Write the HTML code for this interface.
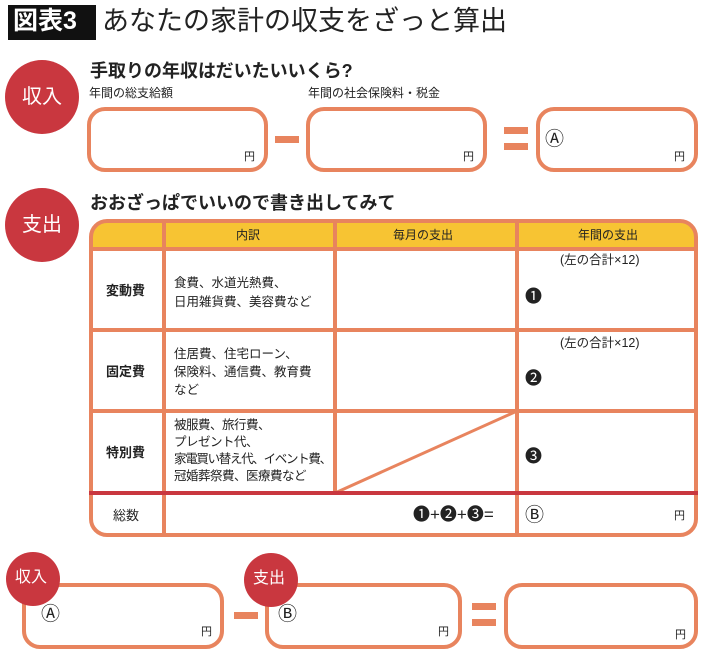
<!DOCTYPE html>
<html><head><meta charset="utf-8"><style>
body{margin:0;width:710px;height:657px;background:#fff;position:relative;overflow:hidden;font-family:"Liberation Sans","Noto Sans CJK JP",sans-serif;color:#222}
.t{position:absolute;white-space:nowrap;line-height:1}
.b{font-weight:bold}
.c{font-family:"DejaVu Sans","Noto Sans CJK JP",sans-serif;font-size:19px}
</style></head><body>
<svg width="710" height="657" style="position:absolute;left:0;top:0">
<rect x="8" y="5" width="88" height="35" fill="#111"/>
<circle cx="42" cy="97" r="37" fill="#c9373f"/>
<circle cx="42" cy="225" r="37" fill="#c9373f"/>
<g fill="none" stroke="#e8845e" stroke-width="4">
<rect x="89" y="109" width="177" height="61" rx="16"/>
<rect x="308" y="109" width="177" height="61" rx="16"/>
<rect x="538" y="109" width="158" height="61" rx="16"/>
</g>
<g fill="#e8845e">
<rect x="275" y="136" width="24" height="7"/>
<rect x="504" y="127" width="24" height="7"/>
<rect x="504" y="143" width="24" height="7"/>
</g>
<path d="M106 221 H680 A16 16 0 0 1 696 237 V249 H91 V237 A16 16 0 0 1 106 221Z" fill="#f7c433"/>
<rect x="91" y="221" width="605" height="314" rx="16" fill="none" stroke="#e8845e" stroke-width="4"/>
<g stroke="#e8845e" stroke-width="4">
<line x1="91" y1="249" x2="696" y2="249"/>
<line x1="91" y1="330" x2="696" y2="330"/>
<line x1="91" y1="411" x2="696" y2="411"/>
<line x1="164" y1="221" x2="164" y2="535"/>
<line x1="335" y1="221" x2="335" y2="493"/>
<line x1="517" y1="221" x2="517" y2="535"/>
<line x1="335" y1="493" x2="517" y2="411" stroke-width="3"/>
</g>
<line x1="89" y1="493" x2="698" y2="493" stroke="#c9373f" stroke-width="4"/>
<g fill="none" stroke="#e8845e" stroke-width="4">
<rect x="24" y="585" width="198" height="62" rx="16"/>
<rect x="267" y="585" width="193" height="62" rx="16"/>
<rect x="506" y="585" width="190" height="62" rx="16"/>
</g>
<g fill="#e8845e">
<rect x="234" y="612" width="24" height="7"/>
<rect x="472" y="603" width="24" height="7"/>
<rect x="472" y="619" width="24" height="7"/>
</g>
<circle cx="33" cy="579" r="27" fill="#c9373f"/>
<circle cx="271" cy="580" r="27" fill="#c9373f"/>
</svg>
<div class="t b" style="left:13px;top:9px;font-size:25px;color:#fff">図表3</div>
<div class="t" style="left:102px;top:8px;font-size:27px">あなたの家計の収支をざっと算出</div>
<div class="t" style="left:22px;top:87px;font-size:20px;color:#fff">収入</div>
<div class="t" style="left:22px;top:215px;font-size:20px;color:#fff">支出</div>
<div class="t b" style="left:90px;top:62px;font-size:18px">手取りの年収はだいたいいくら?</div>
<div class="t" style="left:89px;top:87px;font-size:12px">年間の総支給額</div>
<div class="t" style="left:308px;top:87px;font-size:12px">年間の社会保険料・税金</div>
<div class="t" style="left:244px;top:152px;font-size:11px">円</div>
<div class="t" style="left:463px;top:152px;font-size:11px">円</div>
<div class="t" style="left:674px;top:152px;font-size:11px">円</div>
<div class="t c" style="left:545px;top:130px">Ⓐ</div>
<div class="t b" style="left:90px;top:194px;font-size:18px">おおざっぱでいいので書き出してみて</div>
<div class="t" style="left:236px;top:229px;font-size:12px">内訳</div>
<div class="t" style="left:393px;top:229px;font-size:12px">毎月の支出</div>
<div class="t" style="left:578px;top:229px;font-size:12px">年間の支出</div>
<div class="t b" style="left:106px;top:284px;font-size:13px">変動費</div>
<div class="t b" style="left:106px;top:365px;font-size:13px">固定費</div>
<div class="t b" style="left:106px;top:446px;font-size:13px">特別費</div>
<div class="t" style="left:113px;top:509px;font-size:13px">総数</div>
<div class="t" style="left:174px;top:274px;font-size:12.5px;line-height:19px">食費、水道光熱費、<br>日用雑貨費、美容費など</div>
<div class="t" style="left:174px;top:345px;font-size:12.5px;line-height:18px">住居費、住宅ローン、<br>保険料、通信費、教育費<br>など</div>
<div class="t" style="left:174px;top:417px;font-size:12.5px;line-height:17px;letter-spacing:-0.5px">被服費、旅行費、<br>プレゼント代、<br><span style="letter-spacing:-1.3px">家電買い替え代、イベント費、</span><br>冠婚葬祭費、医療費など</div>
<div class="t" style="left:560px;top:254px;font-size:12.5px">(左の合計×12)</div>
<div class="t" style="left:560px;top:337px;font-size:12.5px">(左の合計×12)</div>
<div class="t" style="left:525px;top:288px;font-size:17px">❶</div>
<div class="t" style="left:525px;top:370px;font-size:17px">❷</div>
<div class="t" style="left:525px;top:448px;font-size:17px">❸</div>
<div class="t" style="left:413px;top:506px;font-size:17px">❶+❷+❸=</div>
<div class="t c" style="left:525px;top:506px">Ⓑ</div>
<div class="t" style="left:674px;top:511px;font-size:11px">円</div>
<div class="t" style="left:15px;top:570px;font-size:16px;color:#fff">収入</div>
<div class="t" style="left:253px;top:571px;font-size:16px;color:#fff">支出</div>
<div class="t c" style="left:41px;top:605px">Ⓐ</div>
<div class="t c" style="left:278px;top:605px">Ⓑ</div>
<div class="t" style="left:201px;top:627px;font-size:11px">円</div>
<div class="t" style="left:438px;top:627px;font-size:11px">円</div>
<div class="t" style="left:675px;top:630px;font-size:11px">円</div>
</body></html>
